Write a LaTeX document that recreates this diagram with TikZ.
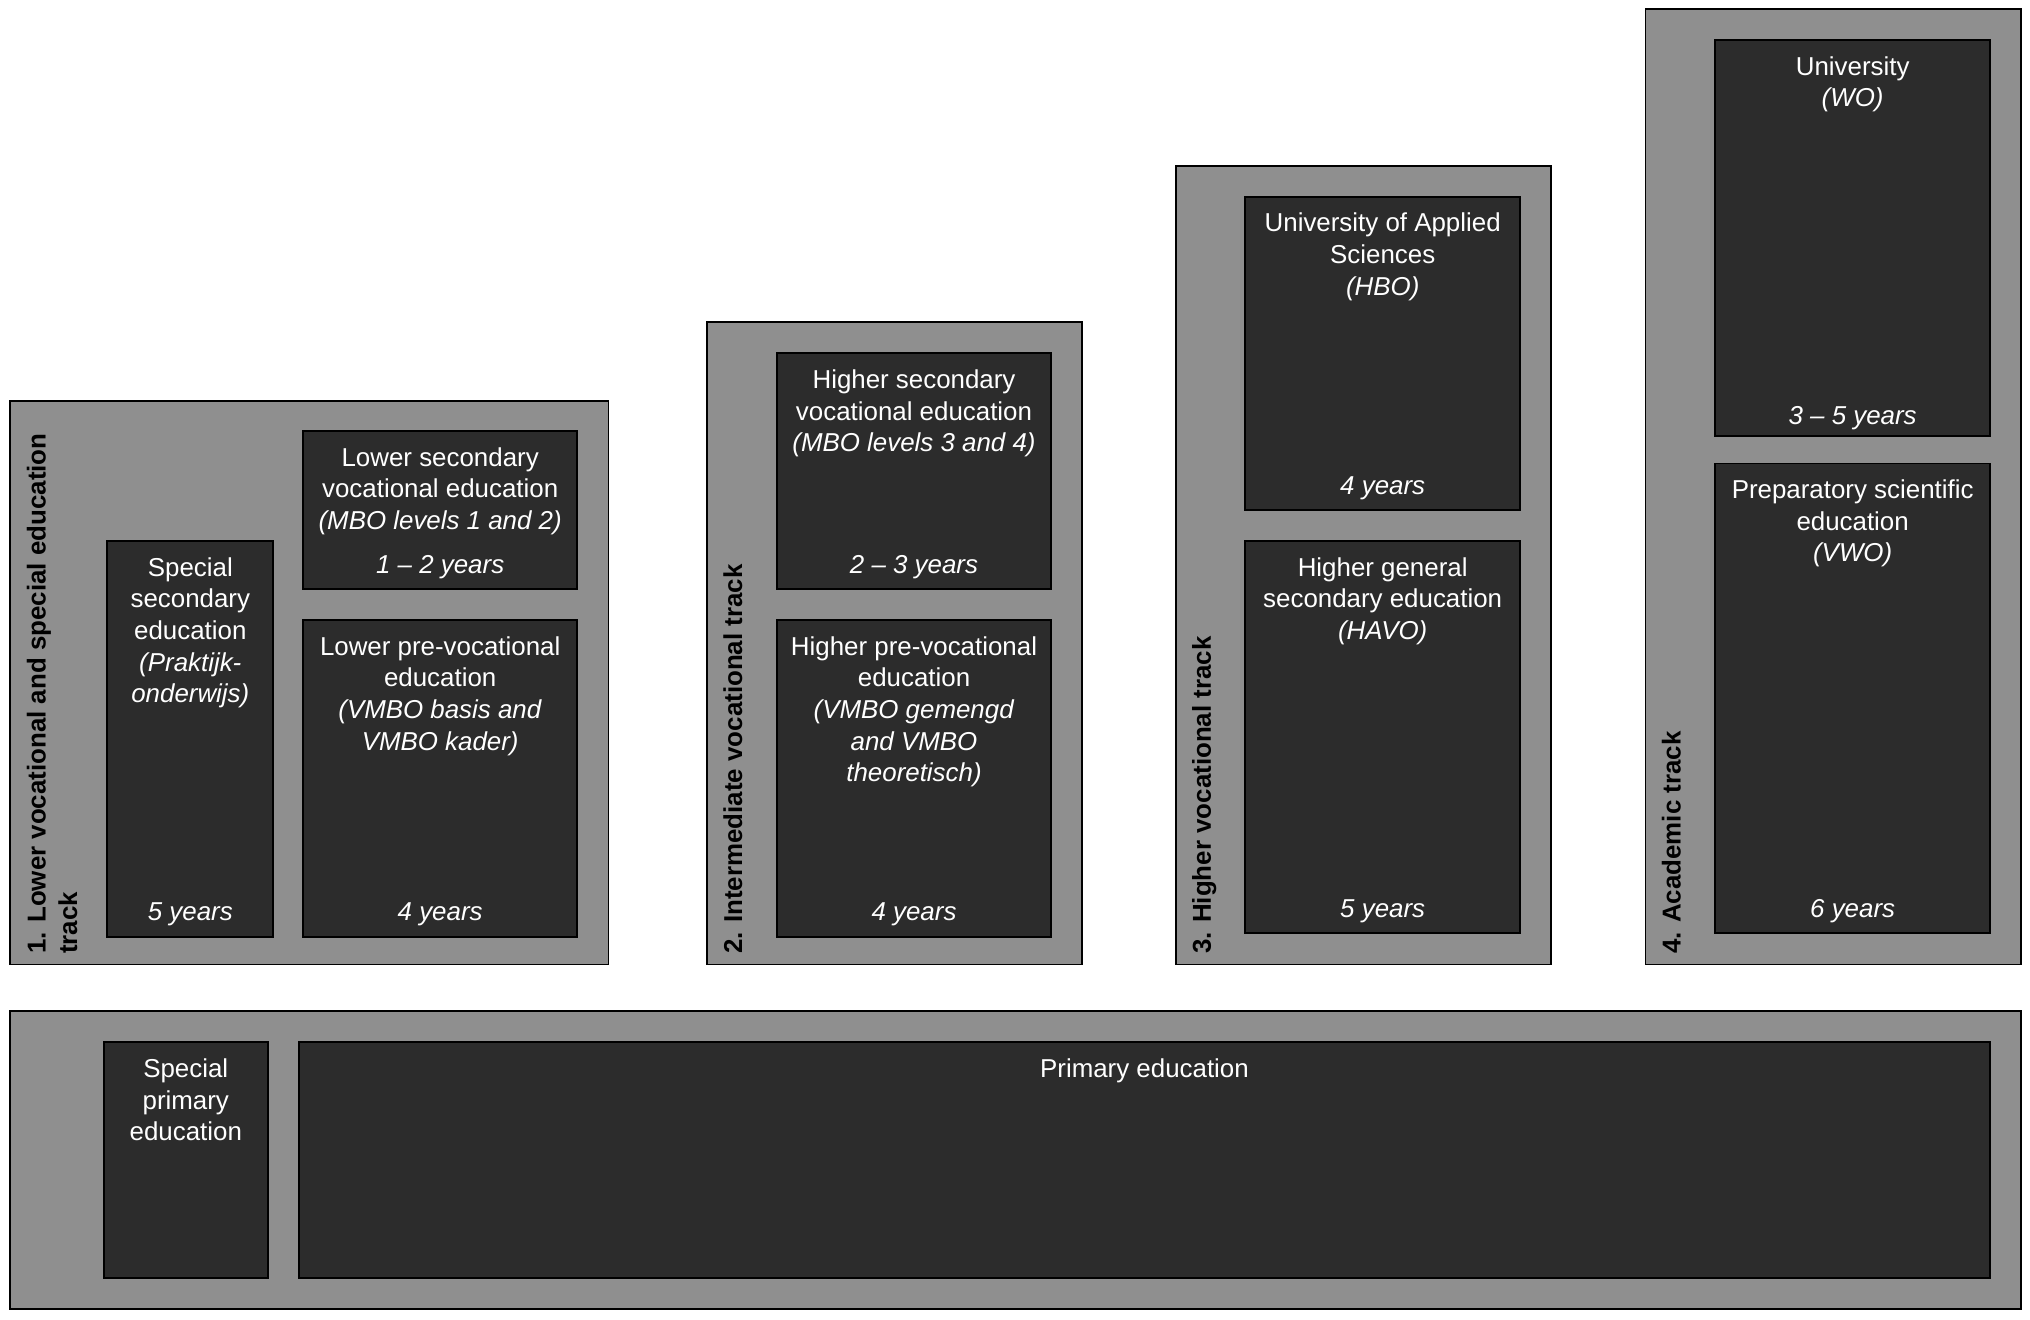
\documentclass[tikz,border=0pt]{standalone}
\usepackage{fontspec}
\setmainfont{Liberation Sans}
\definecolor{outergray}{RGB}{143,143,143}
\definecolor{innerdark}{RGB}{44,44,44}
\newcommand\mybox[6]{\node[#1, anchor=north west, minimum width={(#5-#3)*1pt}, minimum height={(#6-#4)*1pt}] (#2) at (#3,#4) {};}
\begin{document}
\begin{tikzpicture}[x=1pt,y=-1pt,
  track/.style={draw=black, fill=outergray, line width=1.5pt, inner sep=0pt, outer sep=0pt},
  block/.style={draw=black, fill=innerdark, line width=1.5pt, inner sep=0pt, outer sep=0pt},
  title/.style={text=white, align=center, inner sep=0pt, anchor=north, font=\fontsize{20}{24.4}\selectfont},
  dur/.style={text=white, inner sep=0pt, anchor=base, font=\fontsize{20}{24.4}\selectfont\itshape},
  tracklabel/.style={rotate=90, inner sep=0pt, align=left, anchor=north west, font=\fontsize{20}{24.4}\selectfont\bfseries}]
\useasboundingbox (0,0) rectangle (1568,1019);
% tracks
\mybox{track}{t1}{8}{310}{470}{745}
\mybox{track}{t2}{546}{249}{836}{745}
\mybox{track}{t3}{908}{128}{1198}{745}
\mybox{track}{t4}{1271}{7}{1561}{745}
\mybox{track}{tp}{8}{781}{1561}{1011}
% blocks
\mybox{block}{ss}{83}{418}{211}{724}
\mybox{block}{lsv}{234}{333}{446}{455}
\mybox{block}{lpv}{234}{479}{446}{724}
\mybox{block}{hsv}{600}{273}{812}{455}
\mybox{block}{hpv}{600}{479}{812}{724}
\mybox{block}{uas}{962}{152}{1174}{394}
\mybox{block}{havo}{962}{418}{1174}{721}
\mybox{block}{uni}{1325}{31}{1537}{337}
\mybox{block}{vwo}{1325}{358}{1537}{721}
\mybox{block}{spe}{80}{805}{207}{987}
\mybox{block}{pri}{231}{805}{1537}{987}
% titles
\node[title] (ssT) at ([yshift=-12pt]ss.north) {\rule{0pt}{15pt}Special\\secondary\\education\\\textit{(Praktijk-}\\\textit{onderwijs)}};
\node[title] (lsvT) at ([yshift=-12pt]lsv.north) {\rule{0pt}{15pt}Lower secondary\\vocational education\\\textit{(MBO levels 1 and 2)}};
\node[title] (lpvT) at ([yshift=-12pt]lpv.north) {\rule{0pt}{15pt}Lower pre-vocational\\education\\\textit{(VMBO basis and}\\\textit{VMBO kader)}};
\node[title] (hsvT) at ([yshift=-12pt]hsv.north) {\rule{0pt}{15pt}Higher secondary\\vocational education\\\textit{(MBO levels 3 and 4)}};
\node[title] (hpvT) at ([yshift=-12pt]hpv.north) {\rule{0pt}{15pt}Higher pre-vocational\\education\\\textit{(VMBO gemengd}\\\textit{and VMBO}\\\textit{theoretisch)}};
\node[title] (uasT) at ([yshift=-12pt]uas.north) {\rule{0pt}{15pt}University of Applied\\Sciences\\\textit{(HBO)}};
\node[title] (havoT) at ([yshift=-12pt]havo.north) {\rule{0pt}{15pt}Higher general\\secondary education\\\textit{(HAVO)}};
\node[title] (uniT) at ([yshift=-12pt]uni.north) {\rule{0pt}{15pt}University\\\textit{(WO)}};
\node[title] (vwoT) at ([yshift=-12pt]vwo.north) {\rule{0pt}{15pt}Preparatory scientific\\education\\\textit{(VWO)}};
\node[title] (speT) at ([yshift=-12pt]spe.north) {\rule{0pt}{15pt}Special\\primary\\education};
\node[title] (priT) at ([yshift=-12pt]pri.north) {\rule{0pt}{15pt}Primary education};
% durations
\node[dur] (ssD) at ([yshift=13pt]ss.south) {5 years};
\node[dur] (lsvD) at ([yshift=12pt]lsv.south) {1 – 2 years};
\node[dur] (lpvD) at ([yshift=13pt]lpv.south) {4 years};
\node[dur] (hsvD) at ([yshift=12pt]hsv.south) {2 – 3 years};
\node[dur] (hpvD) at ([yshift=13pt]hpv.south) {4 years};
\node[dur] (uasD) at ([yshift=12pt]uas.south) {4 years};
\node[dur] (havoD) at ([yshift=12pt]havo.south) {5 years};
\node[dur] (uniD) at ([yshift=9pt]uni.south) {3 – 5 years};
\node[dur] (vwoD) at ([yshift=12pt]vwo.south) {6 years};
% track labels
\node[tracklabel] (t1L) at ([xshift=12pt,yshift=8pt]t1.south west) {\rule{0pt}{15pt}1. Lower vocational and special education\\track};
\node[tracklabel] (t2L) at ([xshift=12pt,yshift=8pt]t2.south west) {\rule{0pt}{15pt}2. Intermediate vocational track};
\node[tracklabel] (t3L) at ([xshift=12pt,yshift=8pt]t3.south west) {\rule{0pt}{15pt}3. Higher vocational track};
\node[tracklabel] (t4L) at ([xshift=12pt,yshift=8pt]t4.south west) {\rule{0pt}{15pt}4. Academic track};
\end{tikzpicture}
\end{document}
